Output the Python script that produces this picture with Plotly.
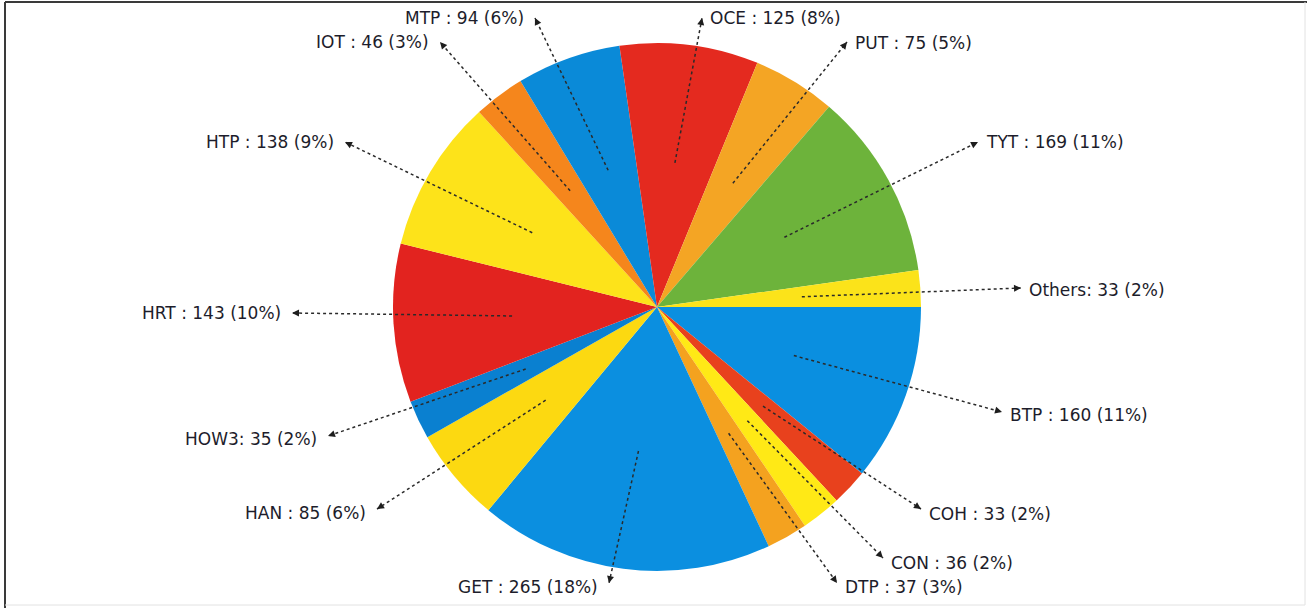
import math
import plotly.graph_objects as go

# ---- data ----
categories = ["BTP", "COH", "CON", "DTP", "GET", "HAN", "HOW3", "HRT",
              "HTP", "IOT", "MTP", "OCE", "PUT", "TYT", "Others"]
values = [160, 33, 36, 37, 265, 85, 35, 143, 138, 46, 94, 125, 75, 169, 33]
label_sep = [" : ", " : ", " : ", " : ", " : ", " : ", ": ", " : ",
             " : ", " : ", " : ", " : ", " : ", " : ", ": "]

# ---- styles / layout ----
colors = ["#0a8fe0", "#e8411d", "#ffe916", "#f4a21f", "#0b8fe0", "#fcd911",
          "#0a80d0", "#e2231f", "#fde31a", "#f5861c", "#0a8ad8", "#e42a1f",
          "#f4a524", "#6db33b", "#fbe31a"]
# label anchor (arrowhead) positions in page pixels, and text side
label_anchor = [(1002, 412), (921, 509), (883, 558), (837, 583), (609, 583),
                (377, 509), (328, 436), (292, 313), (345, 142), (440, 42),
                (535, 18), (702, 18), (847, 42), (978, 142), (1021, 288)]
label_side = ["right", "right", "right", "right", "left", "left", "left",
              "left", "left", "left", "left", "right", "right", "right", "right"]
text_dy = [3, 5, 5, 4, 4, 4, 3, 0, 0, 0, 0, 0, 1, 0, 2]

W, H = 1307, 608
cx, cy, R = 657, 307, 264
tip_frac = 0.55
FONT = "DejaVu Sans, Arial, sans-serif"


def P(x, y):
    return x / W, 1 - y / H


total = sum(values)
pcts = [round(v * 100 / total) for v in values]
texts = [f"{c}{s}{v} ({p}%)" for c, s, v, p in zip(categories, label_sep, values, pcts)]

fig = go.Figure()
fig.add_trace(go.Pie(
    labels=categories, values=values, sort=False, direction="clockwise",
    rotation=90, textinfo="none", showlegend=False,
    marker=dict(colors=colors, line=dict(width=0)),
    domain=dict(x=[(cx - R) / W, (cx + R) / W], y=[1 - (cy + R) / H, 1 - (cy - R) / H]),
    hovertemplate="%{label}: %{value} (%{percent})<extra></extra>",
))

shapes = []
annotations = []
cum = 0
for i, v in enumerate(values):
    mid = (cum + v / 2) / total
    cum += v
    th = mid * 2 * math.pi  # clockwise from 3 o'clock in y-down pixel space
    tx = cx + tip_frac * R * math.cos(th)
    ty = cy + tip_frac * R * math.sin(th)
    axp, ayp = label_anchor[i]
    x0, y0 = P(tx, ty)
    x1, y1 = P(axp, ayp)
    shapes.append(dict(type="line", xref="paper", yref="paper", x0=x0, y0=y0,
                       x1=x1, y1=y1, layer="above",
                       line=dict(color="#2a2a2a", width=1.5, dash="dot")))
    dx, dy = axp - tx, ayp - ty
    d = math.hypot(dx, dy)
    ux, uy = dx / d, dy / d
    annotations.append(dict(xref="paper", yref="paper", x=x1, y=y1, text="",
                            showarrow=True, arrowhead=2, arrowsize=1,
                            arrowwidth=1.4, arrowcolor="#1e1e1e", standoff=0,
                            axref="pixel", ayref="pixel",
                            ax=-7 * ux, ay=-7 * uy))
    if label_side[i] == "left":
        tx_, xa = axp - 9, "right"
    else:
        tx_, xa = axp + 6, "left"
    px, py = P(tx_, ayp + text_dy[i])
    annotations.append(dict(xref="paper", yref="paper", x=px, y=py, text=texts[i],
                            showarrow=False, xanchor=xa, yanchor="middle",
                            font=dict(family=FONT, size=17, color="#1d1d2b")))

# frame
fx0, fy0 = P(5, 2)
fx1, fy1 = P(1305, 605)
shapes.append(dict(type="line", xref="paper", yref="paper", x0=fx0, y0=fy0, x1=fx0, y1=0,
                   line=dict(color="#3a3a3a", width=2), layer="above"))
shapes.append(dict(type="line", xref="paper", yref="paper", x0=fx0, y0=fy0, x1=1, y1=fy0,
                   line=dict(color="#3a3a3a", width=2), layer="above"))
shapes.append(dict(type="line", xref="paper", yref="paper", x0=fx1, y0=fy0, x1=fx1, y1=fy1,
                   line=dict(color="#e2e2e2", width=1), layer="above"))
shapes.append(dict(type="line", xref="paper", yref="paper", x0=fx0, y0=fy1, x1=fx1, y1=fy1,
                   line=dict(color="#e2e2e2", width=1), layer="above"))

fig.update_layout(
    width=W, height=H, margin=dict(l=0, r=0, t=0, b=0),
    paper_bgcolor="white", plot_bgcolor="white",
    shapes=shapes, annotations=annotations, showlegend=False,
)
fig.write_html("out.html", config={"displayModeBar": False},
               post_script="document.body.style.margin='0px';")
